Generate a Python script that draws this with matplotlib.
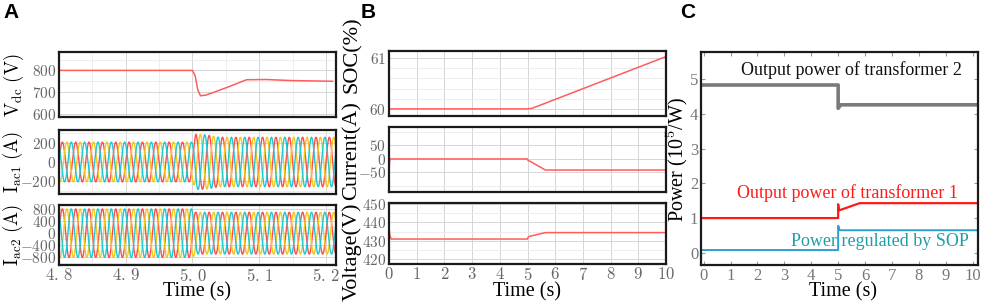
import numpy as np
import matplotlib.pyplot as plt
from matplotlib.ticker import MultipleLocator, FuncFormatter

plt.rcParams['font.family'] = ['Liberation Serif', 'DejaVu Serif']
plt.rcParams['mathtext.fontset'] = 'cm'

# ---- panel A: dc voltage and ac currents around the event at 5 s
vdc_t = [4.80, 5.000, 5.004, 5.008, 5.012, 5.020, 5.030, 5.053, 5.081, 5.110, 5.150, 5.210]
vdc_v = [800, 800, 775, 710, 683, 686, 697, 723, 757, 758, 753, 750]

ac_freq = 50.0
iac1_env_t = [4.80, 5.000, 5.005, 5.020, 5.040, 5.210]
iac1_env_a = [205, 205, 285, 280, 255, 255]
iac2_env_t = [4.80, 5.000, 5.005, 5.210]
iac2_env_a = [800, 800, 690, 690]
phase_colors = ['#ff4d4d', '#f2c91a', '#1cc9d4']
a_xticks = [4.8, 4.9, 5.0, 5.1, 5.2]
a_xlabels = ['4. 8', '4. 9', '5. 0', '5. 1', '5. 2']

# ---- panel B: storage SOC, current, voltage
soc_t = [0, 5.0, 5.15, 5.35, 10]
soc_v = [60.0, 60.0, 60.01, 60.05, 61.03]
cur_t = [0, 0.02, 0.04, 5.0, 5.02, 5.08, 5.65, 10]
cur_v = [-55, -8, 0, 0, -6, -8, -41, -41]
volt_t = [0, 0.03, 0.08, 5.0, 5.02, 5.08, 5.65, 10]
volt_v = [437, 433, 431, 431, 432, 432.5, 434.5, 434.5]

# ---- panel C: power flows
tr2_t = [-0.1, 5.0, 5.0, 5.1, 10.2]
tr2_p = [4.83, 4.83, 4.16, 4.26, 4.26]
tr1_t = [-0.1, 5.0, 5.0, 5.03, 5.8, 10.2]
tr1_p = [1.0, 1.0, 1.40, 1.22, 1.43, 1.43]
sop_t = [-0.1, 5.0, 5.0, 5.06, 10.2]
sop_p = [0.08, 0.08, 0.78, 0.65, 0.65]

W, H = 982, 304
fig = plt.figure(figsize=(W / 100, H / 100), dpi=100)


def box(l, t, r, b):
    return fig.add_axes([l / W, 1 - b / H, (r - l) / W, (b - t) / H])


mfmt = FuncFormatter(lambda v, p: '$%g$' % v)


def style_ab(ax):
    for s in ax.spines.values():
        s.set_linewidth(1.6)
        s.set_color('#1a1a1a')
    ax.tick_params(which='both', length=0, labelsize=11, labelcolor='#666666', pad=2)
    ax.grid(which='major', color='#d6d6d6', lw=0.7)
    ax.grid(which='minor', color='#ebebeb', lw=0.6)
    ax.set_axisbelow(True)
    ax.yaxis.set_major_formatter(mfmt)


# panel A
a1 = box(59, 52, 336, 117)
a2 = box(59, 130, 336, 194)
a3 = box(59, 205, 336, 265)
a1.plot(vdc_t, vdc_v, color='#ff5c5c', lw=1.1)
a1.set_ylim(585, 885)
a1.set_yticks([600, 700, 800])
a1.yaxis.set_minor_locator(MultipleLocator(50))

tt = np.linspace(4.8, 5.215, 4000)
for ax, et, ea in [(a2, iac1_env_t, iac1_env_a), (a3, iac2_env_t, iac2_env_a)]:
    amp = np.interp(tt, et, ea)
    for k, c in enumerate(phase_colors):
        ax.plot(tt, amp * np.sin(2 * np.pi * ac_freq * tt - k * 2 * np.pi / 3), color=c, lw=1.0)
a2.set_ylim(-330, 330)
a2.set_yticks([-200, 0, 200])
a2.yaxis.set_minor_locator(MultipleLocator(100))
a3.set_ylim(-1050, 930)
a3.set_yticks([-800, -400, 0, 400, 800])
a3.yaxis.set_minor_locator(MultipleLocator(200))
for ax in (a1, a2, a3):
    ax.set_xlim(4.8, 5.215)
    ax.set_xticks(a_xticks)
    ax.xaxis.set_minor_locator(MultipleLocator(0.05))
    style_ab(ax)
    ax.set_xticklabels([])
a3.set_xticklabels(['$%s$' % s.replace(' ', r'\,') for s in a_xlabels])
a3.tick_params(axis='x', labelsize=12, pad=2)

fig.text(14 / W, 1 - 85 / H, r'$\mathrm{V_{dc}\ (V)}$', rotation=90, ha='center', va='center', fontsize=13.5)
fig.text(13 / W, 1 - 162 / H, r'$\mathrm{I_{ac1}\ (A)}$', rotation=90, ha='center', va='center', fontsize=13.5)
fig.text(13 / W, 1 - 235 / H, r'$\mathrm{I_{ac2}\ (A)}$', rotation=90, ha='center', va='center', fontsize=13.5)
fig.text(197 / W, 1 - 292 / H, 'Time (s)', ha='center', va='center', fontsize=14.5)

# panel B
b1 = box(389, 51, 666, 116)
b2 = box(389, 127, 666, 192)
b3 = box(389, 203, 666, 264)
b1.plot(soc_t, soc_v, color='#ff5c5c', lw=1.1)
b1.set_ylim(59.86, 61.14)
b1.set_yticks([60, 61])
b1.yaxis.set_minor_locator(MultipleLocator(0.2))
b2.plot(cur_t, cur_v, color='#ff5c5c', lw=1.1)
b2.set_ylim(-122, 118)
b2.set_yticks([-50, 0, 50])
b2.yaxis.set_minor_locator(MultipleLocator(50))
b3.plot(volt_t, volt_v, color='#ff5c5c', lw=1.1)
b3.set_ylim(417.5, 450.5)
b3.set_yticks([420, 430, 440, 450])
b3.yaxis.set_minor_locator(MultipleLocator(5))
for ax in (b1, b2, b3):
    ax.set_xlim(0, 10)
    ax.set_xticks(range(0, 11))
    style_ab(ax)
    ax.set_xticklabels([])
b3.xaxis.set_major_formatter(mfmt)
b3.tick_params(axis='x', labelsize=12, pad=2)

fig.text(352 / W, 1 - 55 / H, 'SOC(%)', rotation=90, ha='center', va='center', fontsize=16)
fig.text(352 / W, 1 - 151 / H, 'Current(A)', rotation=90, ha='center', va='center', fontsize=16)
fig.text(352 / W, 1 - 252 / H, 'Voltage(V)', rotation=90, ha='center', va='center', fontsize=16)
fig.text(527 / W, 1 - 292 / H, 'Time (s)', ha='center', va='center', fontsize=14.5)

# panel C
c = box(701, 52, 978, 265)
c.plot(tr2_t, tr2_p, color='#7a7a7a', lw=2.6)
c.plot(tr1_t, tr1_p, color='#ff1a1a', lw=1.6)
c.plot(sop_t, sop_p, color='#2a9fd0', lw=1.4)
c.set_xlim(-0.1, 10.2)
c.set_ylim(-0.35, 5.78)
c.set_xticks(range(0, 11))
c.set_yticks(range(0, 6))
c.tick_params(which='both', direction='in', top=True, right=True, length=3,
              color='#9a9a9a', labelsize=12, labelcolor='#777777', pad=2)
for s in c.spines.values():
    s.set_linewidth(1.6)
    s.set_color('#1a1a1a')
c.text(5.5, 5.27, 'Output power of transformer 2', ha='center', va='center', fontsize=13, color='#111111')
c.text(5.35, 1.73, 'Output power of transformer 1', ha='center', va='center', fontsize=13, color='#ff1a1a')
c.text(6.55, 0.33, 'Power regulated by SOP', ha='center', va='center', fontsize=13, color='#1f9ea8')
fig.text(677 / W, 1 - 160 / H, r'Power (10$^5$/W)', rotation=90, ha='center', va='center', fontsize=14.5)
fig.text(843 / W, 1 - 292 / H, 'Time (s)', ha='center', va='center', fontsize=14.5)

# panel letters
for x, s in [(3, 'A'), (361, 'B'), (680, 'C')]:
    fig.text(x / W, 1 - 12 / H, s, ha='left', va='center', fontsize=15,
             fontweight='bold', family='Liberation Sans')

fig.savefig('out.png', dpi=100)
